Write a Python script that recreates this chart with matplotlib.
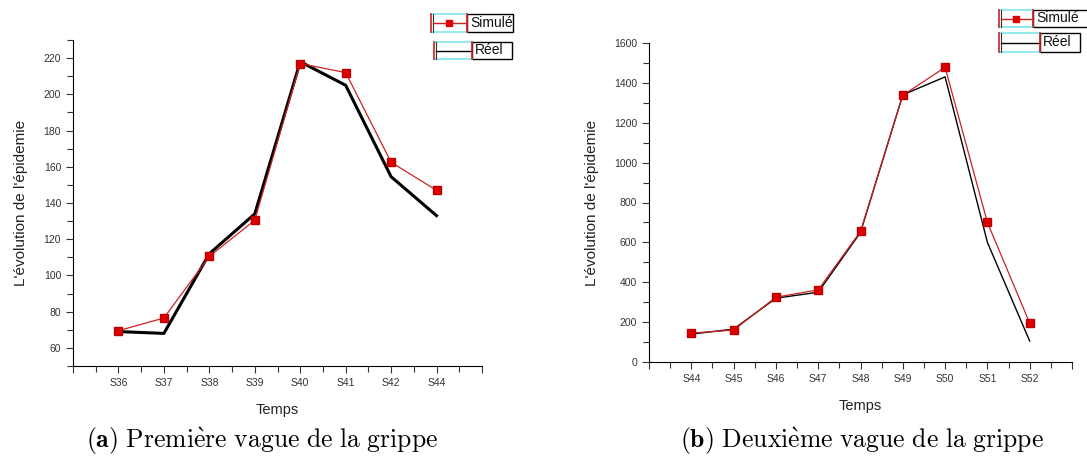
import matplotlib
import matplotlib.pyplot as plt
from matplotlib.patches import Rectangle
from matplotlib.lines import Line2D
from matplotlib.ticker import MultipleLocator

matplotlib.use('Agg')

#Data
weeks_a = ["S36", "S37", "S38", "S39", "S40", "S41", "S42", "S44"]
sim_a = [69.5, 76.5, 110.5, 130.5, 217, 212, 162.5, 147]
reel_a = [69, 68, 112, 134, 218, 205, 154.5, 133]

weeks_b = ["S44", "S45", "S46", "S47", "S48", "S49", "S50", "S51", "S52"]
sim_b = [145, 160, 325, 362, 655, 1338, 1478, 700, 195]
reel_b = [140, 165, 320, 350, 650, 1340, 1430, 600, 105]

captions = [r"$\mathbf{(a)}\ \mathrm{Premi\grave{e}re\ vague\ de\ la\ grippe}$",
            r"$\mathbf{(b)}\ \mathrm{Deuxi\grave{e}me\ vague\ de\ la\ grippe}$"]

plt.rcParams['font.family'] = 'Liberation Sans'
plt.rcParams['mathtext.fontset'] = 'cm'

fig = plt.figure(figsize=(10.87, 4.63), dpi=100)
W, H = 1087, 463


def px_box(x0, y0, x1, y1):
    #pixel box (top-left origin) to figure fraction rect
    return [x0 / W, 1 - y1 / H, (x1 - x0) / W, (y1 - y0) / H]


def fx(x):
    return x / W


def fy(y):
    return 1 - y / H


def legend_entry(x0, xm, x1, y0, y1, label, marker):
    #sample area with cyan top/bottom and red end bars, then boxed label
    fig.add_artist(Line2D([fx(x0), fx(xm)], [fy(y0), fy(y0)], color="#7fe8f0", lw=1.2))
    fig.add_artist(Line2D([fx(x0), fx(xm)], [fy(y1), fy(y1)], color="#7fe8f0", lw=1.2))
    fig.add_artist(Line2D([fx(x0), fx(x0)], [fy(y0), fy(y1)], color="#cc2222", lw=1.2))
    fig.add_artist(Line2D([fx(x0 + 2), fx(x0 + 2)], [fy(y0), fy(y1)], color="#333333", lw=0.8))
    ym = (y0 + y1) / 2
    if marker:
        fig.add_artist(Line2D([fx(x0 + 2), fx(xm)], [fy(ym), fy(ym)], color="#cc2222", lw=1.0))
        fig.add_artist(Line2D([fx((x0 + xm) / 2)], [fy(ym)], color="#dd0000", marker="s",
                              markersize=5, lw=0))
    else:
        fig.add_artist(Line2D([fx(x0 + 2), fx(xm)], [fy(ym), fy(ym)], color="black", lw=1.0))
    fig.add_artist(Line2D([fx(xm), fx(xm)], [fy(y0), fy(y1)], color="#cc2222", lw=1.2))
    fig.add_artist(Rectangle((fx(xm), fy(y1)), (x1 - xm) / W, (y1 - y0) / H, fill=False,
                             edgecolor="black", lw=1.0))
    fig.text(fx(xm + 3), fy(ym), label, fontsize=10, va="center", ha="left", color="#111111")


def style_axis(ax):
    ax.spines["top"].set_visible(False)
    ax.spines["right"].set_visible(False)
    ax.tick_params(axis="both", which="both", direction="out", labelsize=7.5, colors="#333333")
    ax.tick_params(axis="both", which="major", length=5, width=0.8)
    ax.tick_params(axis="both", which="minor", length=4, width=0.8)
    ax.xaxis.set_minor_locator(MultipleLocator(0.5))
    ax.set_xlabel("Temps", fontsize=10.5, color="#222222", labelpad=11)
    ax.set_ylabel("L'évolution de l'épidemie", fontsize=11, color="#222222", labelpad=11)


#Panel (a)
ax1 = fig.add_axes(px_box(73, 40, 482, 366))
xa = list(range(1, len(weeks_a) + 1))
ax1.plot(xa, reel_a, color="black", lw=2.2, zorder=2)
ax1.plot(xa, sim_a, color="#cc2222", lw=0.9, marker="s", markersize=6,
         markerfacecolor="#dd0000", markeredgecolor="#bb0000", zorder=3)
ax1.set_xlim(0, len(weeks_a) + 1)
ax1.set_ylim(50, 230)
ax1.set_xticks(range(0, len(weeks_a) + 2))
ax1.set_xticklabels([""] + weeks_a + [""])
ax1.set_yticks(range(60, 221, 20))
ax1.yaxis.set_minor_locator(MultipleLocator(10))
style_axis(ax1)

#Panel (b)
ax2 = fig.add_axes(px_box(649, 43, 1072, 362))
xb = list(range(1, len(weeks_b) + 1))
ax2.plot(xb, reel_b, color="black", lw=1.0, zorder=2)
ax2.plot(xb, sim_b, color="#cc2222", lw=0.9, marker="s", markersize=6,
         markerfacecolor="#dd0000", markeredgecolor="#bb0000", zorder=3)
ax2.set_xlim(0, len(weeks_b) + 1)
ax2.set_ylim(0, 1600)
ax2.set_xticks(range(0, len(weeks_b) + 2))
ax2.set_xticklabels([""] + weeks_b + [""])
ax2.set_yticks(range(0, 1601, 200))
ax2.yaxis.set_minor_locator(MultipleLocator(100))
style_axis(ax2)

#Legends drawn like the original software boxes
legend_entry(431, 467, 513, 14, 32, "Simulé", True)
legend_entry(434, 472, 512, 42, 59, "Réel", False)
legend_entry(999, 1033, 1095, 10, 27, "Simulé", True)
legend_entry(999, 1040, 1080, 33, 52, "Réel", False)

#Captions
for txt, cx in zip(captions, [262, 862]):
    fig.text(fx(cx), fy(448), txt, fontsize=18.5, ha="center", va="baseline")

fig.savefig("out.png", dpi=100)
